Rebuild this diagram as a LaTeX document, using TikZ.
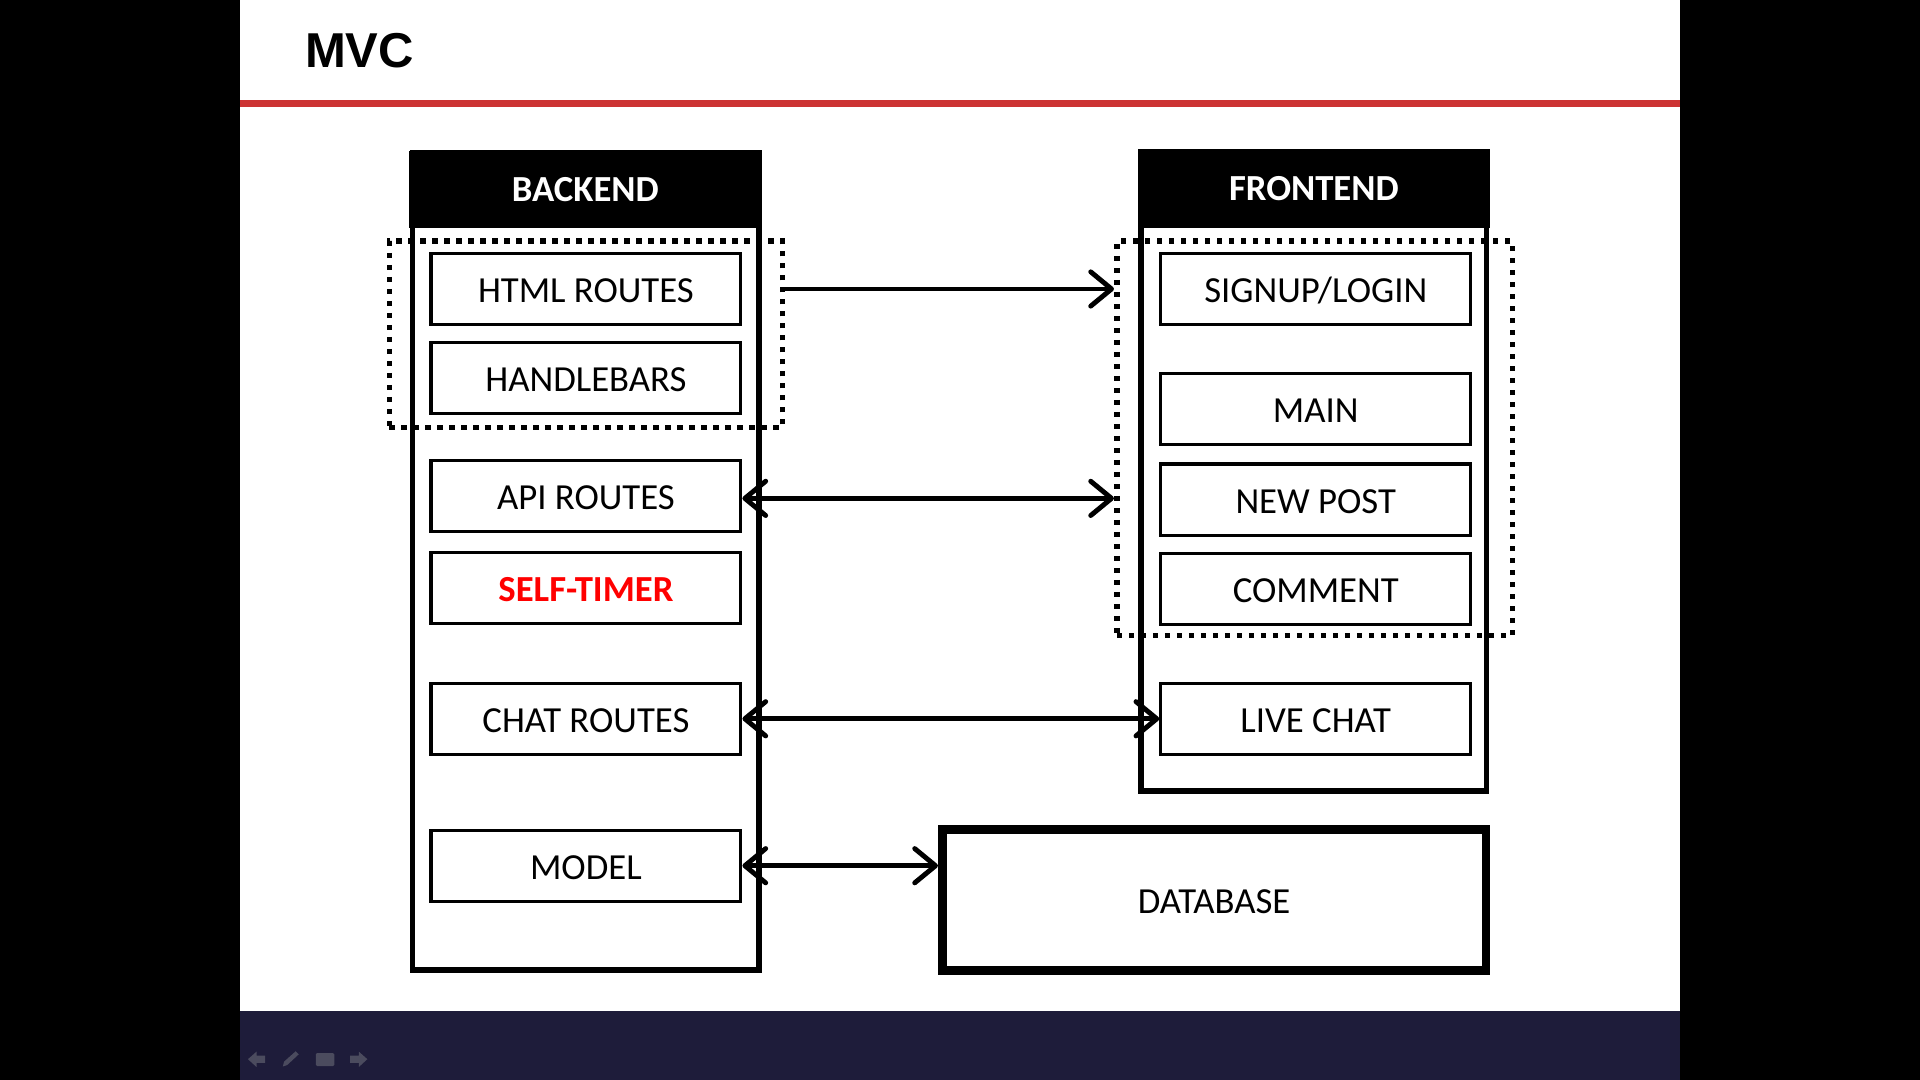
\documentclass[tikz,border=0pt]{standalone}
\usepackage{fontspec}
\setmainfont{Carlito}
\newfontfamily\titlefont{Liberation Sans}
\usetikzlibrary{arrows.meta}
\definecolor{slidered}{HTML}{CC3333}
\definecolor{navybar}{HTML}{1E1C3A}
\definecolor{icongrey}{HTML}{4B4B5E}
\definecolor{timerred}{HTML}{FF0000}
\tikzset{
  lbl/.style={font=\fontsize{30}{32}\selectfont, text height=22pt, text depth=0pt},
  ibox/.style={draw, line width=2.6pt, minimum width=253pt, minimum height=58pt, inner sep=0pt, lbl},
  frame/.style={draw, line width=4.5pt, inner sep=0pt},
  hdr/.style={fill=black, text=white, inner sep=0pt, font=\fontsize{30}{32}\selectfont\bfseries},
  dotbox/.style={draw, line width=4.5pt, dash pattern=on 4.5pt off 5.3pt, inner sep=0pt},
  arr/.style={line width=4pt, -{Straight Barb[length=17pt, width=28pt, round]}},
  darr/.style={line width=4pt, {Straight Barb[length=17pt, width=28pt, round]}-{Straight Barb[length=17pt, width=28pt, round]}},
}
\begin{document}
\begin{tikzpicture}[x=1pt, y=-1pt]
\useasboundingbox (0,0) rectangle (1568,882);
% background
\fill[black] (0,0) rectangle (1568,882);
\fill[white] (196,0) rectangle (1372,826);
\fill[navybar] (196,826) rectangle (1372,882);
\fill[slidered] (196,81.7) rectangle (1372,87.4);
% title
\node[anchor=base west, inner sep=0pt, font=\titlefont\fontsize{40}{44}\selectfont\bfseries] (title) at (249,55) {MVC};
% bottom icons
\fill[icongrey] (202.5,865) -- (209.5,858.8) -- (209.5,862) -- (216.5,862) -- (216.5,868) -- (209.5,868) -- (209.5,871.4) -- cycle;
\fill[icongrey] (231,871) -- (232,867) -- (241.5,858.5) -- (244,861) -- (234.5,869.8) -- cycle;
\fill[icongrey, rounded corners=1pt] (258,860) rectangle (273,870.6);
\fill[icongrey] (300,865) -- (293,858.8) -- (293,862) -- (286,862) -- (286,868) -- (293,868) -- (293,871.4) -- cycle;
% backend
\node[frame, minimum width=283pt, minimum height=667pt] (be) at (478.5,458.5) {};
\node[hdr, minimum width=288pt, minimum height=63pt] (beh) at (478,154.5) {BACKEND};
\node[ibox] (html) at (478.5,236) {HTML ROUTES};
\node[ibox] (hbs) at (478.5,308.5) {HANDLEBARS};
\node[ibox] (api) at (478.5,405) {API ROUTES};
\node[ibox, text=timerred, font=\fontsize{30}{32}\selectfont\bfseries] (timer) at (478.5,480) {SELF-TIMER};
\node[ibox] (chat) at (478.5,587) {CHAT ROUTES};
\node[ibox] (model) at (478.5,707) {MODEL};
\node[dotbox, minimum width=321pt, minimum height=152pt] (bed) at (478.5,273) {};
% frontend
\node[frame, minimum width=282pt, minimum height=522pt] (fe) at (1073,385) {};
\node[hdr, minimum width=287pt, minimum height=64pt] (feh) at (1073,154) {FRONTEND};
\node[ibox] (sign) at (1074.5,236) {SIGNUP/LOGIN};
\node[ibox] (main) at (1074.5,334) {MAIN};
\node[ibox] (post) at (1074.5,408) {NEW POST};
\node[ibox] (comm) at (1074.5,481) {COMMENT};
\node[ibox] (live) at (1074.5,587) {LIVE CHAT};
\node[dotbox, minimum width=323pt, minimum height=322pt] (fed) at (1073.5,358) {};
% database
\node[draw, line width=7pt, minimum width=444pt, minimum height=115pt, inner sep=0pt, lbl] (db) at (991.5,735) {DATABASE};
% connectors
\draw[arr] (bed.east |- sign.east) -- (fed.west |- sign.east);
\draw[darr] ([yshift=-2pt]api.east) -- ([yshift=-2pt]fed.west |- api.east);
\draw[darr] (chat.east) -- (live.west);
\draw[darr] (model.east) -- (db.west |- model.east);
\end{tikzpicture}
\end{document}
